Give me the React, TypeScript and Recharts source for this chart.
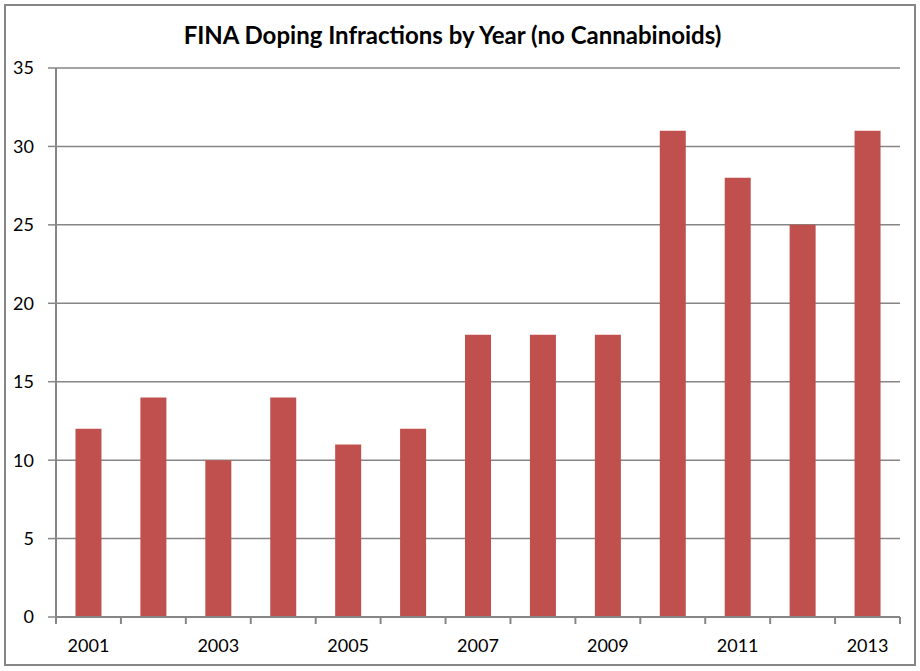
import React from 'react';
import { BarChart, Bar, XAxis, YAxis, CartesianGrid } from 'recharts';

const years = ['2001', '2002', '2003', '2004', '2005', '2006', '2007', '2008', '2009', '2010', '2011', '2012', '2013'];
const infractions = [12, 14, 10, 14, 11, 12, 18, 18, 18, 31, 28, 25, 31];
const yTicks = [0, 5, 10, 15, 20, 25, 30, 35];

const data = years.map((year, i) => ({ year, value: infractions[i] }));

const W = 920;
const H = 671;
const LEFT = 56;
const RIGHT = 20;
const BAND = (W - LEFT - RIGHT) / years.length;
const AXIS = '#868686';
const FONT = 'Lato, "Open Sans", sans-serif';

const YearTick = (props: any) => {
  const { x, y, payload, index } = props;
  const last = index === years.length - 1;
  return (
    <g>
      <line x1={x - BAND / 2} y1={y} x2={x - BAND / 2} y2={y + 7} stroke={AXIS} strokeWidth={2} />
      {last && <line x1={x + BAND / 2} y1={y} x2={x + BAND / 2} y2={y + 7} stroke={AXIS} strokeWidth={2} />}
      {index % 2 === 0 && (
        <text x={x} y={y + 28} textAnchor="middle" dominantBaseline="central" fontSize={18} fill="#000" fontFamily={FONT}>
          {payload.value}
        </text>
      )}
    </g>
  );
};

const App: React.FC = () => {
  return (
    <div style={{ position: 'absolute', left: 0, top: 0, width: W, height: H, background: '#fff', fontFamily: FONT }}>
      <div
        style={{
          position: 'absolute',
          left: 4,
          top: 4,
          width: W - 12,
          height: H - 13,
          border: `2px solid ${AXIS}`,
        }}
      />
      <div
        style={{
          position: 'absolute',
          left: 0,
          top: 20,
          width: W - 15,
          textAlign: 'center',
          fontSize: 24,
          fontWeight: 'bold',
          color: '#000',
        }}
      >
        FINA Doping Infractions by Year (no Cannabinoids)
      </div>
      <div style={{ position: 'absolute', left: 0, top: 0 }}>
        <BarChart width={W} height={H} data={data} margin={{ top: 68, right: RIGHT, bottom: 14, left: 0 }} barCategoryGap="30%">
          <CartesianGrid vertical={false} stroke={AXIS} strokeWidth={1.5} />
          <XAxis
            dataKey="year"
            interval={0}
            height={40}
            tickLine={false}
            tickSize={0}
            tickMargin={0}
            axisLine={{ stroke: AXIS, strokeWidth: 2 }}
            tick={<YearTick />}
          />
          <YAxis
            width={LEFT}
            domain={[0, 35]}
            ticks={yTicks}
            interval={0}
            tickSize={8}
            tickMargin={14}
            tickLine={{ stroke: AXIS, strokeWidth: 1.5 }}
            axisLine={{ stroke: AXIS, strokeWidth: 2 }}
            tick={{ fill: '#000', fontSize: 18, fontFamily: FONT }}
          />
          <Bar dataKey="value" fill="#C0504D" isAnimationActive={false} />
        </BarChart>
      </div>
    </div>
  );
};

export default App;
